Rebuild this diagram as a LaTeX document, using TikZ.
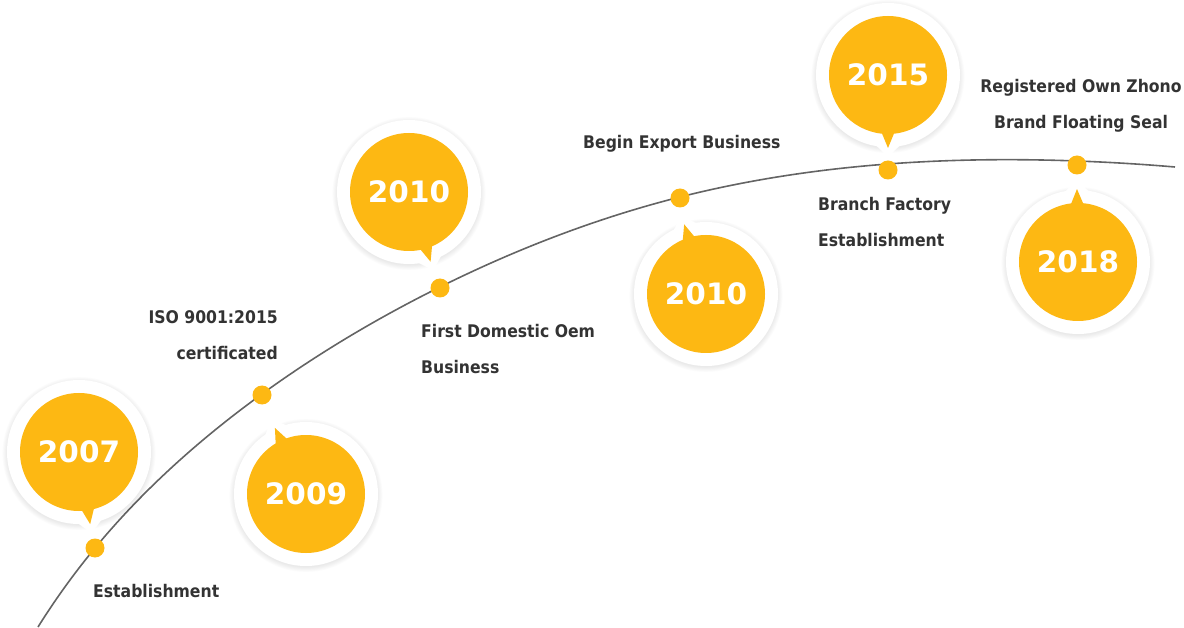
\documentclass[tikz,border=0pt]{standalone}
\usepackage{fontspec}
\setmainfont{DejaVu Sans Condensed}
\newfontfamily\yearfont{DejaVu Sans}
\usetikzlibrary{calc,hobby}
\definecolor{gold}{RGB}{253,184,19}
\definecolor{txt}{RGB}{51,51,51}
\definecolor{linegray}{RGB}{100,100,100}
\newcommand\mybubble[5]{%
  \coordinate (#1) at (#2,#3);
  \foreach \k in {1,...,7} {
    \fill[black,opacity=0.012] ($(#1)+(0,1.5)$) circle ({71+\k*0.8});
  }
  \fill[white] (#1) circle (72);
  \fill[white] ($(#1)+(#4-14:68)$) -- ($(#1)+(#4:82)$) -- ($(#1)+(#4+14:68)$) -- cycle;
  \fill[gold] (#1) circle (59);
  \fill[gold] ($(#1)+(#4-8:55)$) -- ($(#1)+(#4:73)$) -- ($(#1)+(#4+8:55)$) -- cycle;
  \node[year] (#1-t) at (#1) {#5};
}
\begin{document}
\begin{tikzpicture}[x=1pt,y=-1pt,
  lbl/.style={font=\fontsize{17.4}{36}\selectfont\bfseries, text=txt, inner sep=0pt},
  year/.style={font=\yearfont\fontsize{29.5}{29.5}\selectfont\bfseries, text=white, inner sep=0pt},
  dot/.style={circle, fill=gold, minimum size=19pt, inner sep=0pt},
  timeline/.style={draw=linegray, line width=1.6pt}]
\useasboundingbox (0,0) rectangle (1184,628);
% curve
\coordinate (s) at (38,627);
\coordinate (c1) at (95,548);
\coordinate (c2) at (262,394);
\coordinate (c3) at (440,287);
\coordinate (c4) at (680,197);
\coordinate (c5) at (888,164);
\coordinate (c7) at (1077,161);
\coordinate (e) at (1175,167);
\draw[timeline, use Hobby shortcut] (s) .. (c1) .. (c2) .. (c3) .. (c4) .. (c5) .. (c7) .. (e);
% bubbles
\mybubble{b1}{79}{452}{81.2}{2007}
\mybubble{b2}{306}{494}{244.8}{2009}
\mybubble{b3}{409}{192}{72.8}{2010}
\mybubble{b4}{706}{294}{252.6}{2010}
\mybubble{b5}{888}{75}{90}{2015}
\mybubble{b6}{1078}{262}{269.2}{2018}
% dots
\node[dot] (d1) at (95,548) {};
\node[dot] (d2) at (262,395) {};
\node[dot] (d3) at (440,288) {};
\node[dot] (d4) at (680,198) {};
\node[dot] (d5) at (888,170) {};
\node[dot] (d6) at (1077,165) {};
% labels
\node[lbl, anchor=west] (l1) at (93,591) {Establishment};
\node[lbl, anchor=east, align=right] (l2) at (278,335) {ISO 9001:2015\\certificated};
\node[lbl, anchor=west, align=left] (l3) at (421,349) {First Domestic Oem\\Business};
\node[lbl, anchor=west] (l4) at (583,144) {Begin Export Business};
\node[lbl, anchor=west, align=left] (l5) at (818,222) {Branch Factory\\Establishment};
\node[lbl, align=center] (l6) at (1081,106) {Registered Own Zhono\\Brand Floating Seal};
\end{tikzpicture}
\end{document}
